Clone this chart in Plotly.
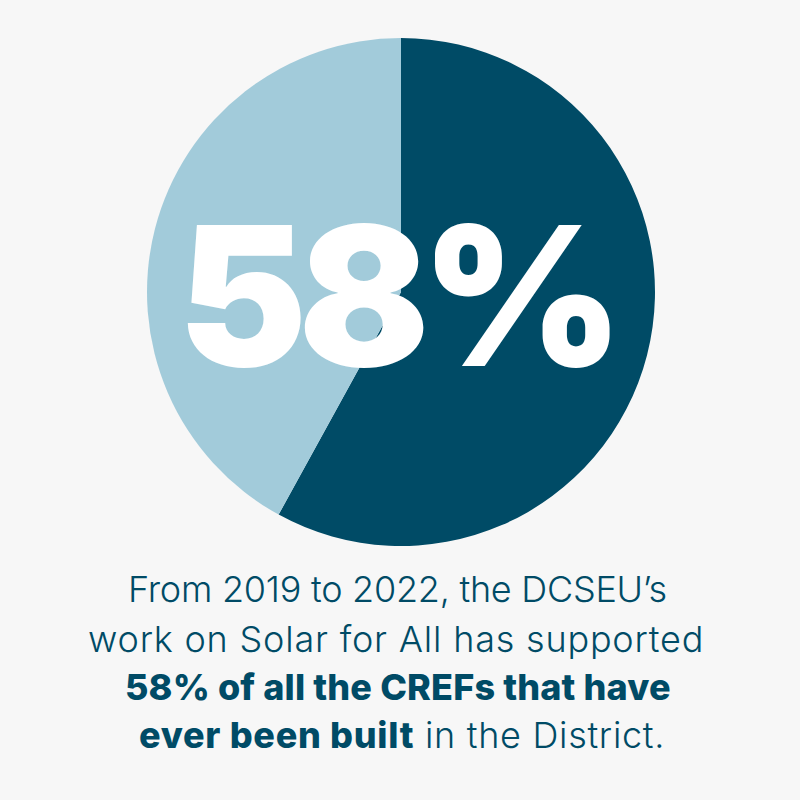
import plotly.graph_objects as go

# pie values, clockwise from 12 o'clock
labels = ['CREFs supported by DCSEU', 'Other CREFs']
values = [58, 42]
colors = ['#004b66', '#a2cbda']

big_text = '58%'
# each caption line is a heavy part followed by a light part
caption_bold = ['', '', '58% of all the CREFs that have', 'ever been built']
caption_light = [
    'From 2019 to 2022, the DCSEU’s',
    'work on Solar for All has supported',
    '',
    ' in the District.',
]

FONT = 'Inter, Lato, sans-serif'
caption_x = [397, 396, 398, 402]
caption_y = [589, 639, 687, 735]
# Inter runs narrower than the original font, so each line gets its own spacing
caption_spacing = [-0.25, 0.8, 0.15, 0.7]

fig = go.Figure()

fig.add_trace(go.Pie(
    labels=labels,
    values=values,
    sort=False,
    direction='clockwise',
    rotation=0,
    marker=dict(colors=colors, line=dict(width=0)),
    textinfo='none',
    hoverinfo='skip',
    showlegend=False,
    domain=dict(x=[147 / 800, 655 / 800], y=[1 - 546 / 800, 1 - 38 / 800]),
))

# big number over the pie
fig.add_annotation(
    x=396 / 800, y=1 - 295 / 800, xref='paper', yref='paper',
    xanchor='center', yanchor='middle',
    text='<span style="letter-spacing:-9px">' + big_text + '</span>',
    showarrow=False,
    font=dict(family='Inter, sans-serif', size=194, color='white', weight=900),
)

# caption lines, one annotation each so the spacing is easy to control
for bold, light, x, y, sp in zip(caption_bold, caption_light, caption_x, caption_y, caption_spacing):
    text = light
    if bold:
        text = '<span style="font-weight:800">' + bold + '</span>' + light
    fig.add_annotation(
        x=x / 800, y=1 - y / 800, xref='paper', yref='paper',
        xanchor='center', yanchor='middle',
        text='<span style="letter-spacing:' + str(sp) + 'px">' + text + '</span>',
        showarrow=False,
        font=dict(family=FONT, size=36, color='#004b66', weight=300),
    )

fig.update_layout(
    width=800, height=800,
    margin=dict(l=0, r=0, t=0, b=0),
    paper_bgcolor='#f7f7f7',
    plot_bgcolor='#f7f7f7',
)

# page has a default body margin, drop it so the figure fills the window
fig.write_html(
    'out.html',
    config=dict(displayModeBar=False),
    post_script="document.body.style.margin='0';document.body.style.background='#f7f7f7';document.documentElement.style.overflow='hidden';",
)
